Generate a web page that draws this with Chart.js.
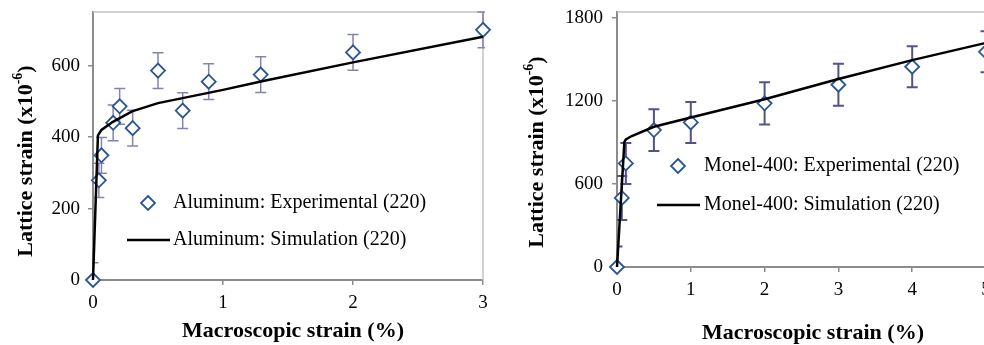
<!DOCTYPE html>
<html><head><meta charset="utf-8">
<script src="https://cdn.jsdelivr.net/npm/chart.js@4.4.0/dist/chart.umd.min.js"></script>
<style>
html,body{margin:0;padding:0;background:#fff;overflow:hidden;width:984px;height:345px;position:relative;}
#c1{position:absolute;left:0;top:0;}
#c2{position:absolute;left:500px;top:0;}
</style></head><body>
<canvas id="c1" width="500" height="345"></canvas>
<canvas id="c2" width="500" height="345"></canvas>
<script>
// ---- Aluminum (left panel) ----
const alStrain = [0, 0.045, 0.065, 0.155, 0.205, 0.305, 0.5, 0.69, 0.89, 1.29, 2.0, 3.0];
const alExp    = [0, 279, 349, 440, 486, 425, 586, 474, 555, 575, 637, 700];
const alErr    = [48, 48, 50, 50, 50, 50, 50, 50, 50, 50, 50, 50];
const alSimStrain = [0, 0.038, 0.065, 0.15, 0.3, 0.5, 1.0, 1.3, 2.0, 3.0];
const alSim       = [0, 405, 420, 442, 472, 495, 532, 556, 609, 681];
const alXTicks = [0, 1, 2, 3];
const alYTicks = [0, 200, 400, 600];

// ---- Monel-400 (right panel) ----
const mnStrain = [0, 0.065, 0.12, 0.5, 1, 2, 3, 4, 5];
const mnExp    = [0, 498, 747, 988, 1043, 1181, 1315, 1445, 1553];
const mnErr    = [148, 158, 148, 151, 148, 153, 152, 148, 148];
const mnSimStrain = [0, 0.1, 0.12, 0.2, 0.5, 1, 2, 3, 4, 5];
const mnSim       = [0, 903, 920, 945, 1012, 1079, 1210, 1356, 1493, 1617];
const mnXTicks = [0, 1, 2, 3, 4, 5];
const mnYTicks = [0, 600, 1200, 1800];

const FONT = '"Liberation Serif","Times New Roman",serif';
const MARK = '#2a5592';

function pts(xs, ys){ return xs.map((x,i)=>({x:x, y:ys[i]})); }

const errorBarPlugin = {
  id:'errorBars',
  beforeDatasetsDraw(chart, args, opts){
    const {ctx, chartArea:a, scales:{x, y}} = chart;
    ctx.save();
    ctx.strokeStyle = '#c4c4c4'; ctx.lineWidth = 1.5;
    ctx.beginPath();
    ctx.moveTo(a.left, a.top); ctx.lineTo(a.right, a.top); ctx.lineTo(a.right, a.bottom);
    ctx.stroke();
    ctx.beginPath(); ctx.rect(a.left, a.top-1, a.right-a.left+2, a.bottom-a.top+1); ctx.clip();
    ctx.strokeStyle = opts.color; ctx.lineWidth = opts.width;
    opts.xs.forEach((xv,i)=>{
      const px = x.getPixelForValue(xv);
      const top = y.getPixelForValue(opts.ys[i]+opts.err[i]);
      const bot = y.getPixelForValue(opts.ys[i]-opts.err[i]);
      ctx.beginPath();
      ctx.moveTo(px, top); ctx.lineTo(px, bot);
      ctx.moveTo(px-5.5, top); ctx.lineTo(px+5.5, top);
      ctx.moveTo(px-5.5, bot); ctx.lineTo(px+5.5, bot);
      ctx.stroke();
    });
    ctx.restore();
  }
};

const decorPlugin = {
  id:'decor',
  afterDraw(chart, args, o){
    const ctx = chart.ctx;
    ctx.save();
    ctx.fillStyle = '#000';
    ctx.translate(o.yTitle.x, o.yTitle.y); ctx.rotate(-Math.PI/2);
    const f1 = 'bold 22px '+FONT, f2 = 'bold 14px '+FONT;
    ctx.font=f1; const w1=ctx.measureText('Lattice strain (x10').width, w3=ctx.measureText(')').width;
    ctx.font=f2; const w2=ctx.measureText('-6').width;
    let xx = -(w1+w2+w3)/2;
    ctx.textBaseline='alphabetic'; ctx.textAlign='left';
    ctx.font=f1; ctx.fillText('Lattice strain (x10', xx, 7); xx+=w1;
    ctx.font=f2; ctx.fillText('-6', xx, -3); xx+=w2;
    ctx.font=f1; ctx.fillText(')', xx, 7);
    ctx.restore();
    ctx.save();
    ctx.fillStyle='#000';
    ctx.font='bold 22px '+FONT; ctx.textAlign='center'; ctx.textBaseline='middle';
    ctx.fillText('Macroscopic strain (%)', o.xTitle.x, o.xTitle.y);
    const L=o.legend;
    ctx.font='20px '+FONT; ctx.textAlign='left'; ctx.textBaseline='middle';
    ctx.fillText(L.label1, L.textX, L.y1);
    ctx.fillText(L.label2, L.textX, L.y2);
    ctx.strokeStyle=MARK; ctx.lineWidth=1.8; ctx.fillStyle='#fff';
    ctx.beginPath();
    ctx.moveTo(L.mx, L.y1-7); ctx.lineTo(L.mx+7, L.y1); ctx.lineTo(L.mx, L.y1+7); ctx.lineTo(L.mx-7, L.y1); ctx.closePath();
    ctx.fill(); ctx.stroke();
    ctx.strokeStyle='#000'; ctx.lineWidth=2.5;
    ctx.beginPath(); ctx.moveTo(L.lx1, L.y2); ctx.lineTo(L.lx2, L.y2); ctx.stroke();
    ctx.restore();
  }
};

function makeChart(id, cfg){
  return new Chart(document.getElementById(id), {
    type:'scatter',
    data:{datasets:[
      {label:cfg.simLabel, type:'line', data:pts(cfg.simX, cfg.simY), borderColor:'#000', borderWidth:2.5,
       pointRadius:0, fill:false, tension:0, order:0, clip:false},
      {label:cfg.expLabel, data:pts(cfg.expX, cfg.expY), pointStyle:'rectRot', pointRadius:7, pointHoverRadius:7,
       borderColor:MARK, backgroundColor:'#fff', pointBorderWidth:1.8, borderWidth:1.8, order:1, clip:false}
    ]},
    options:{
      responsive:false, animation:false, devicePixelRatio:1,
      layout:{padding:{left:0, top:cfg.padTop, right:cfg.padRight, bottom:0}},
      plugins:{legend:{display:false}, tooltip:{enabled:false},
        errorBars:{xs:cfg.expX, ys:cfg.expY, err:cfg.err, color:cfg.errColor, width:cfg.errWidth},
        decor:cfg.decor},
      scales:{
        x:{type:'linear', min:0, max:cfg.xMax,
           afterBuildTicks:s=>{s.ticks=cfg.xTicks.map(v=>({value:v}));},
           afterFit:s=>{s.height=cfg.xAxisH; s.paddingLeft=0; s.paddingRight=0;},
           grid:{drawOnChartArea:false, drawTicks:true, tickLength:5, color:'#8c8c8c', lineWidth:1.5},
           border:{display:true, color:'#8c8c8c', width:2},
           ticks:{font:{family:FONT, size:19}, color:'#000', padding:7, maxRotation:0, callback:v=>String(v)}},
        y:{type:'linear', min:0, max:cfg.yMax,
           afterBuildTicks:s=>{s.ticks=cfg.yTicks.map(v=>({value:v}));},
           afterFit:s=>{s.width=cfg.yAxisW; s.paddingTop=0; s.paddingBottom=0;},
           grid:{drawOnChartArea:false, drawTicks:true, tickLength:5, color:'#8c8c8c', lineWidth:1.5},
           border:{display:true, color:'#8c8c8c', width:2},
           ticks:{font:{family:FONT, size:19}, color:'#000', padding:cfg.yPad, callback:v=>String(v)}}
      }
    },
    plugins:[errorBarPlugin, decorPlugin]
  });
}

makeChart('c1', {
  simX:alSimStrain, simY:alSim, expX:alStrain, expY:alExp, err:alErr,
  simLabel:'Aluminum: Simulation (220)', expLabel:'Aluminum: Experimental (220)',
  xMax:3, yMax:750, xTicks:alXTicks, yTicks:alYTicks,
  padTop:12, padRight:17, xAxisH:65, yAxisW:93, yPad:8,
  errColor:'#8484b4', errWidth:1.5,
  decor:{yTitle:{x:25, y:161}, xTitle:{x:293, y:331},
    legend:{label1:'Aluminum: Experimental (220)', label2:'Aluminum: Simulation (220)',
      textX:173, y1:203, y2:240, mx:148, lx1:127, lx2:170}}
});

makeChart('c2', {
  simX:mnSimStrain, simY:mnSim, expX:mnStrain, expY:mnExp, err:mnErr,
  simLabel:'Monel-400: Simulation (220)', expLabel:'Monel-400: Experimental (220)',
  xMax:5, yMax:1840, xTicks:mnXTicks, yTicks:mnYTicks,
  padTop:12, padRight:14, xAxisH:78, yAxisW:117, yPad:9,
  errColor:'#52528e', errWidth:2,
  decor:{yTitle:{x:36, y:152}, xTitle:{x:313, y:333},
    legend:{label1:'Monel-400: Experimental (220)', label2:'Monel-400: Simulation (220)',
      textX:204, y1:166, y2:205, mx:178, lx1:157, lx2:200}}
});
</script>
</body></html>
